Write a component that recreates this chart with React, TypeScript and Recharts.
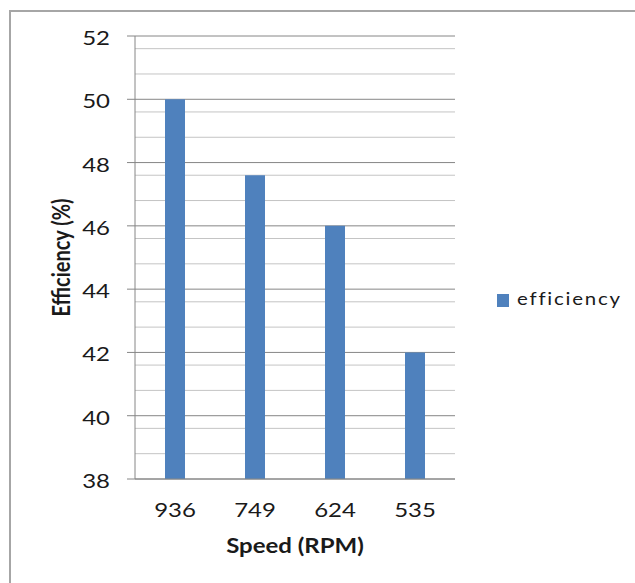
import React from "react";
import { BarChart, Bar, XAxis, YAxis, CartesianGrid, Label } from "recharts";

const speeds = ["936", "749", "624", "535"];
const efficiency = [50, 47.6, 46, 42];
const majorTicks = [38, 40, 42, 44, 46, 48, 50, 52];
const minorTicks = [
  38.4, 38.8, 39.2, 39.6, 40.4, 40.8, 41.2, 41.6, 42.4, 42.8, 43.2, 43.6,
  44.4, 44.8, 45.2, 45.6, 46.4, 46.8, 47.2, 47.6, 48.4, 48.8, 49.2, 49.6,
  50.4, 50.8, 51.2, 51.6,
];
const seriesName = "efficiency";
const xTitle = "Speed (RPM)";
const yTitle = "Efficiency (%)";

const data = speeds.map((s, i) => ({ speed: s, efficiency: efficiency[i] }));

const FONT = "Lato, 'Open Sans', sans-serif";
const SX = 1.2;

const XTick = (props: any) => {
  const { x, y, payload } = props;
  return (
    <g transform={`translate(${x},${y})`}>
      <text transform={`scale(${SX},1)`} x={0} y={0} dy={30} textAnchor="middle" fontFamily={FONT} fontSize={20} fill="#1a1a1a">
        {payload.value}
      </text>
    </g>
  );
};

const YTick = (props: any) => {
  const { x, y, payload } = props;
  return (
    <g transform={`translate(${x},${y})`}>
      <text transform={`scale(${SX},1)`} x={0} y={0} dy={9} textAnchor="end" fontFamily={FONT} fontSize={20} fill="#1a1a1a">
        {payload.value}
      </text>
    </g>
  );
};

export default function App() {
  return (
    <div style={{ position: "absolute", left: 0, top: 0, width: 635, height: 583, background: "#fff", overflow: "hidden" }}>
      <div
        style={{
          position: "absolute",
          left: 9,
          top: 10,
          width: 640,
          height: 600,
          borderTop: "2px solid #a6a6a6",
          borderLeft: "2px solid #a6a6a6",
        }}
      />
      <div style={{ position: "absolute", left: 0, top: 0 }}>
        <BarChart width={635} height={583} data={data} margin={{ top: 36, right: 180, bottom: 0, left: 0 }}>
          <CartesianGrid vertical={false} horizontalValues={minorTicks} stroke="#c4c4c4" strokeWidth={1} />
          <CartesianGrid vertical={false} horizontalValues={majorTicks} stroke="#868686" strokeWidth={1} />
          <XAxis
            dataKey="speed"
            height={104}
            tickLine={false}
            axisLine={{ stroke: "#868686" }}
            tick={<XTick />}
          >
            <Label
              content={({ viewBox }: any) => (
                <g transform={`translate(${viewBox.x + viewBox.width / 2},553)`}>
                  <text transform={`scale(${SX},1)`} x={0} y={0} textAnchor="middle" fontFamily={FONT} fontWeight="bold" fontSize={20} fill="#1a1a1a">
                    {xTitle}
                  </text>
                </g>
              )}
            />
          </XAxis>
          <YAxis
            domain={[38, 52]}
            ticks={majorTicks}
            width={135}
            tickSize={8}
            tickMargin={17}
            tickLine={{ stroke: "#868686" }}
            axisLine={{ stroke: "#868686" }}
            tick={<YTick />}
          >
            <Label
              content={({ viewBox }: any) => (
                <g transform={`translate(70,${viewBox.y + viewBox.height / 2}) rotate(-90)`}>
                  <text transform={`scale(1,${SX})`} x={0} y={0} textAnchor="middle" fontFamily={FONT} fontWeight="bold" fontSize={20} fill="#1a1a1a">
                    {yTitle}
                  </text>
                </g>
              )}
            />
          </YAxis>
          <Bar dataKey="efficiency" name={seriesName} fill="#4f81bd" barSize={20} isAnimationActive={false} />
        </BarChart>
      </div>
      <div style={{ position: "absolute", left: 497, top: 294, width: 12, height: 13, background: "#4f81bd" }} />
      <div
        style={{
          position: "absolute",
          left: 517,
          top: 289,
          fontFamily: FONT,
          fontSize: 17,
          lineHeight: "20px",
          color: "#1a1a1a",
          letterSpacing: 1.5,
          transform: `scaleX(${SX})`,
          transformOrigin: "0 0",
          whiteSpace: "nowrap",
        }}
      >
        {seriesName}
      </div>
    </div>
  );
}
